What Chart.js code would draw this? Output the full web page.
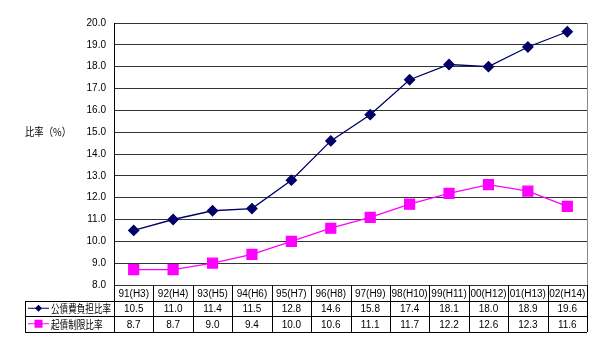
<!DOCTYPE html>
<html>
<head>
<meta charset="utf-8">
<script src="https://cdn.jsdelivr.net/npm/chart.js@4.4.1/dist/chart.umd.min.js"></script>
<style>
  html, body { margin: 0; padding: 0; background: #fff; }
</style>
</head>
<body>
<canvas id="chart" width="600" height="346"></canvas>
<script>
// fiscal years, 1991 (H3) .. 2002 (H14)
const categories = ['91(H3)', '92(H4)', '93(H5)', '94(H6)', '95(H7)', '96(H8)', '97(H9)', '98(H10)', '99(H11)', '00(H12)', '01(H13)', '02(H14)'];
const debtBurdenRatio = [10.5, 11.0, 11.4, 11.5, 12.8, 14.6, 15.8, 17.4, 18.1, 18.0, 18.9, 19.6];
const bondLimitRatio = [8.7, 8.7, 9.0, 9.4, 10.0, 10.6, 11.1, 11.7, 12.2, 12.6, 12.3, 11.6];
const seriesNames = ['公債費負担比率', '起債制限比率'];
const yAxisTitle = '比率（%）';
const yMin = 8, yMax = 20, yStep = 1;

const NAVY = '#000066';
const MAGENTA = '#ff00ff';
const numFont = '"Liberation Sans Narrow", "Arial Narrow", "Liberation Sans", sans-serif';
const jpFont = '"Noto Sans CJK JP", sans-serif';

// draws the data table under the plot, using the x scale for the columns
const dataTablePlugin = {
  id: 'dataTable',
  afterDraw(chart) {
    const ctx = chart.ctx;
    const area = chart.chartArea;
    const xs = chart.scales.x;
    const colW = (area.right - area.left) / categories.length;
    const rowH = 15.5;
    const top = area.bottom;
    const tableLeft = 25;
    const rows = [debtBurdenRatio, bondLimitRatio];
    const colors = [NAVY, MAGENTA];

    ctx.save();
    ctx.strokeStyle = '#000';
    ctx.lineWidth = 1;

    // right edge of the plot
    ctx.beginPath();
    ctx.strokeStyle = '#888';
    ctx.moveTo(area.right + 0.5, area.top);
    ctx.lineTo(area.right + 0.5, area.bottom);
    ctx.stroke();
    ctx.strokeStyle = '#000';

    // horizontal lines
    ctx.beginPath();
    for (let r = 1; r <= 3; r++) {
      const y = Math.round(top + r * rowH) + 0.5;
      ctx.moveTo(tableLeft, y);
      ctx.lineTo(area.right, y);
    }
    ctx.moveTo(tableLeft, Math.round(top + rowH) + 0.5);
    ctx.lineTo(area.right, Math.round(top + rowH) + 0.5);
    // verticals
    for (let i = 0; i <= categories.length; i++) {
      const x = Math.round(area.left + i * colW) + 0.5;
      ctx.moveTo(x, top);
      ctx.lineTo(x, Math.round(top + 3 * rowH));
    }
    ctx.moveTo(tableLeft + 0.5, Math.round(top + rowH));
    ctx.lineTo(tableLeft + 0.5, Math.round(top + 3 * rowH));
    ctx.stroke();

    // category header + values
    ctx.fillStyle = '#000';
    ctx.textAlign = 'center';
    ctx.textBaseline = 'middle';
    ctx.font = '10px ' + numFont;
    categories.forEach((c, i) => {
      const x = xs.getPixelForValue(i);
      ctx.fillText(c, x, top + rowH / 2 + 1);
      rows.forEach((vals, r) => {
        ctx.fillText(vals[i].toFixed(1), x, top + rowH * (r + 1.5) + 1);
      });
    });

    // legend cells
    rows.forEach((vals, r) => {
      const cy = top + rowH * (r + 1.5);
      ctx.strokeStyle = colors[r];
      ctx.fillStyle = colors[r];
      ctx.beginPath();
      ctx.moveTo(28, cy);
      ctx.lineTo(49, cy);
      ctx.stroke();
      if (r === 0) {
        ctx.beginPath();
        ctx.moveTo(38.5, cy - 3.5);
        ctx.lineTo(42, cy);
        ctx.lineTo(38.5, cy + 3.5);
        ctx.lineTo(35, cy);
        ctx.closePath();
        ctx.fill();
      } else {
        ctx.fillRect(34.5, cy - 4, 8, 8);
      }
      ctx.save();
      ctx.translate(51, cy + 1);
      ctx.scale(0.78, 1);
      ctx.fillStyle = '#000';
      ctx.textAlign = 'left';
      ctx.font = '11px ' + jpFont;
      ctx.fillText(seriesNames[r], 0, 0);
      ctx.restore();
    });

    // y axis title, horizontal
    ctx.save();
    ctx.translate(25, 132);
    ctx.scale(0.85, 1);
    ctx.fillStyle = '#000';
    ctx.textAlign = 'left';
    ctx.font = '11px ' + jpFont;
    ctx.fillText(yAxisTitle, 0, 0);
    ctx.restore();

    ctx.restore();
  }
};

new Chart(document.getElementById('chart'), {
  type: 'line',
  data: {
    labels: categories,
    datasets: [
      {
        label: seriesNames[0],
        data: debtBurdenRatio,
        borderColor: NAVY,
        backgroundColor: NAVY,
        borderWidth: 1.3,
        pointStyle: 'rectRot',
        pointRadius: 5,
        pointHoverRadius: 5,
        tension: 0
      },
      {
        label: seriesNames[1],
        data: bondLimitRatio,
        borderColor: MAGENTA,
        backgroundColor: MAGENTA,
        borderWidth: 1.3,
        pointStyle: 'rect',
        pointRadius: 7,
        pointHoverRadius: 7,
        tension: 0
      }
    ]
  },
  options: {
    responsive: false,
    animation: false,
    events: [],
    layout: { padding: { top: 23, right: 13, bottom: 61, left: 0 } },
    plugins: {
      legend: { display: false },
      tooltip: { enabled: false }
    },
    scales: {
      x: {
        type: 'category',
        display: false,
        offset: true
      },
      y: {
        min: yMin,
        max: yMax,
        afterFit(scale) { scale.width = 114; },
        border: { color: '#000', width: 1 },
        grid: { color: '#333', lineWidth: 1, drawTicks: false },
        ticks: {
          stepSize: yStep,
          padding: 8,
          color: '#000',
          font: { family: numFont, size: 10 },
          callback: v => v.toFixed(1)
        }
      }
    }
  },
  plugins: [dataTablePlugin]
});
</script>
</body>
</html>
